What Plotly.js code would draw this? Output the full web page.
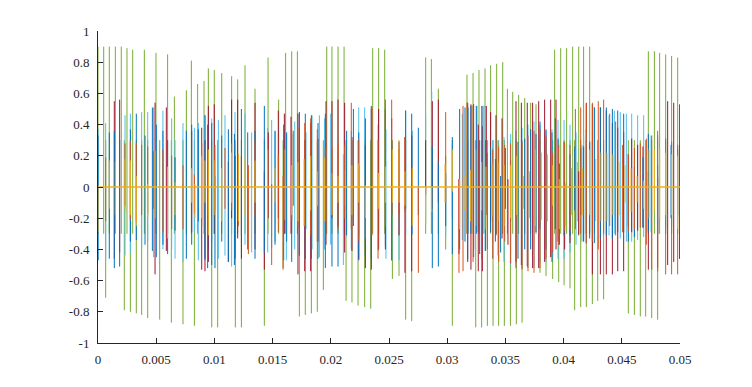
<!DOCTYPE html>
<html>
<head>
<meta charset="utf-8">
<script src="https://cdn.plot.ly/plotly-3.0.1.min.js"></script>
<style>html,body{margin:0;padding:0;background:#fff;}#chart{width:752px;height:387px;}</style>
</head>
<body>
<div id="chart"></div>
<script>
// ---- tick labels ----
const xTickVals = [0,0.005,0.01,0.015,0.02,0.025,0.03,0.035,0.04,0.045,0.05];
const xTickText = ["0","0.005","0.01","0.015","0.02","0.025","0.03","0.035","0.04","0.045","0.05"];
const yTickVals = [-1,-0.8,-0.6,-0.4,-0.2,0,0.2,0.4,0.6,0.8,1];
const yTickText = ["-1","-0.8","-0.6","-0.4","-0.2","0","0.2","0.4","0.6","0.8","1"];

// ---- green series: time, low, high of each vertical stroke ----
const greenT = [
0.00000,0.00049,0.00066,0.00097,0.00149,0.00200,0.00226,0.00249,0.00278,0.00298,
0.00329,0.00375,0.00398,0.00427,0.00498,0.00530,0.00598,0.00630,0.00656,0.00730,
0.00759,0.00802,0.00828,0.00856,0.00911,0.00948,0.00977,0.00999,0.01028,0.01063,
0.01148,0.01180,0.01200,0.01232,0.01263,0.01349,0.01429,0.01461,0.01552,0.01590,
0.01612,0.01664,0.01713,0.01730,0.01781,0.01833,0.01884,0.01936,0.01965,0.02010,
0.02062,0.02114,0.02131,0.02182,0.02234,0.02291,0.02343,0.02360,0.02411,0.02463,
0.02529,0.02586,0.02643,0.02695,0.02815,0.02864,0.02924,0.02987,0.03044,0.03170,
0.03222,0.03245,0.03273,0.03296,0.03325,0.03345,0.03373,0.03394,0.03425,0.03442,
0.03477,0.03491,0.03517,0.03543,0.03563,0.03594,0.03614,0.03643,0.03666,0.03717,
0.03763,0.03797,0.03849,0.03906,0.03923,0.03958,0.03975,0.04004,0.04026,0.04055,
0.04078,0.04095,0.04130,0.04147,0.04172,0.04195,0.04224,0.04247,0.04293,0.04344,
0.04556,0.04608,0.04659,0.04705,0.04728,0.04757,0.04780,0.04808,0.04825,0.04877,
0.04928,0.04980];
const greenHi = [
.90,.90,.30,.90,.90,.90,.30,.89,.30,.88,
.30,.30,.88,.30,.86,.30,.85,.30,.58,.30,
.62,.81,.30,.66,.68,.76,.30,.75,.30,.73,
.71,.30,.69,.30,.78,.63,.30,.83,.56,.30,
.86,.87,.87,.30,.30,.30,.30,.30,.90,.90,
.90,.90,.30,.30,.30,.30,.30,.89,.89,.88,
.30,.30,.30,.30,.83,.82,.63,.20,.30,.72,
.73,.30,.75,.30,.76,.30,.78,.30,.79,.30,
.80,.30,.63,.30,.61,.30,.59,.30,.57,.54,
.53,.30,.30,.30,.88,.30,.89,.30,.89,.30,
.90,.30,.90,.30,.90,.30,.90,.30,.30,.30,
.30,.30,.30,.30,.87,.30,.87,.30,.86,.85,
.84,.83];
const greenLo = [
-.30,-.30,-.71,-.30,-.30,-.30,-.79,-.30,-.80,-.30,
-.81,-.82,-.30,-.84,-.30,-.85,-.30,-.87,-.30,-.88,
-.30,-.30,-.89,-.30,-.30,-.30,-.90,-.30,-.90,-.30,
-.30,-.90,-.30,-.90,-.30,-.30,-.89,-.30,-.30,-.52,
-.30,-.30,-.30,-.83,-.82,-.81,-.80,-.66,-.30,-.30,
-.30,-.30,-.73,-.74,-.76,-.77,-.78,-.30,-.30,-.30,
-.59,-.57,-.85,-.86,-.30,-.30,-.30,-.40,-.89,-.30,
-.30,-.90,-.30,-.90,-.30,-.89,-.30,-.89,-.30,-.89,
-.30,-.89,-.30,-.89,-.30,-.88,-.30,-.87,-.30,-.30,
-.30,-.55,-.57,-.59,-.30,-.61,-.30,-.63,-.30,-.65,
-.30,-.79,-.30,-.77,-.30,-.77,-.30,-.75,-.73,-.72,
-.81,-.82,-.83,-.83,-.30,-.84,-.30,-.85,-.30,-.30,
-.30,-.30];

// ---- light blue series ----
const lbT = [
0.00000,0.00066,0.00232,0.00278,0.00375,0.00427,0.00478,0.00558,0.00633,0.00662,
0.00730,0.00828,0.00862,0.00919,0.00948,0.00977,0.01034,0.01091,0.01148,0.01177,
0.01263,0.01320,0.01458,0.01492,0.01521,0.01618,0.01690,0.01730,0.01787,0.01839,
0.01902,0.01947,0.01999,0.02108,0.02176,0.02240,0.02291,0.02406,0.02474,0.02523,
0.02586,0.02643,0.02700,0.02815,0.02867,0.02987,0.03044,0.03130,0.03182,0.03256,
0.03325,0.03391,0.03436,0.03488,0.03545,0.03591,0.03643,0.03694,0.03746,0.03797,
0.03849,0.03900,0.03952,0.04004,0.04055,0.04107,0.04158,0.04172,0.04224,0.04264,
0.04390,0.04436,0.04487,0.04539,0.04585,0.04636,0.04688,0.04751,0.04808,0.04877,
0.04928,0.04997];
const lbHi = [
.37,.41,.46,.47,.48,.48,.51,.49,.44,.30,
.41,.38,.41,.46,.43,.44,.43,.46,.35,.48,
.47,.35,.38,.43,.36,.34,.42,.48,.35,.46,
.46,.44,.47,.21,.36,.51,.51,.40,.37,.26,
.10,.49,.36,.47,.61,.05,.28,.47,.51,.52,
.52,.30,.30,.32,.34,.36,.38,.40,.42,.40,
.36,.37,.43,.43,.40,.35,.27,.33,.29,.51,
.46,.49,.48,.47,.47,.46,.46,.33,.33,.29,
.28,.27];
const lbLo = [
-.47,-.47,-.44,-.42,-.39,-.35,-.45,-.40,-.40,-.46,
-.48,-.29,-.47,-.47,-.40,-.35,-.46,-.44,-.51,-.40,
-.37,-.42,-.42,-.39,-.35,-.47,-.40,-.44,-.27,-.40,
-.45,-.40,-.37,-.50,-.40,-.31,-.33,-.41,-.46,-.47,
-.47,-.30,-.30,-.24,-.10,-.32,-.20,-.34,-.30,-.29,
-.41,-.46,-.44,-.48,-.50,-.51,-.52,-.52,-.52,-.48,
-.48,-.45,-.46,-.46,-.42,-.37,-.35,-.35,-.28,-.30,
-.31,-.30,-.33,-.35,-.35,-.34,-.32,-.29,-.30,-.27,
-.25,-.46];

// ---- dark red series ----
const drT = [
0.00140,0.00186,0.00490,0.00587,0.00805,0.00891,0.00919,0.00948,0.00999,0.01120,
0.01148,0.01177,0.01200,0.01232,0.01349,0.01429,0.01463,0.01549,0.01601,0.01658,
0.01718,0.01776,0.01827,0.01890,0.01959,0.02010,0.02062,0.02119,0.02182,0.02240,
0.02297,0.02348,0.02411,0.02469,0.02523,0.02586,0.02637,0.02695,0.02815,0.02872,
0.02924,0.03101,0.03176,0.03204,0.03227,0.03267,0.03302,0.03336,0.03373,0.03419,
0.03471,0.03522,0.03591,0.03637,0.03688,0.03734,0.03786,0.03837,0.03889,0.03935,
0.03963,0.04009,0.04055,0.04130,0.04195,0.04247,0.04316,0.04367,0.04419,0.04465,
0.04516,0.04556,0.04585,0.04636,0.04682,0.04728,0.04808,0.04894,0.04946,0.04997];
const drHi = [
.55,.56,.54,.51,.36,.38,.30,.52,.53,.16,
.56,.20,.56,.20,.54,.10,.35,.49,.47,.45,
.47,.30,.41,.31,.55,.55,.56,.54,.32,.14,
.27,.50,.50,.49,.44,.24,.32,.33,.30,.55,
.56,.05,.54,.53,.53,.40,.39,.52,.48,.46,
.44,.05,.55,.54,.54,.54,.55,.56,.56,.56,
.15,.03,.02,.10,.54,.53,.51,.49,.41,.38,
.35,.21,.31,.27,.26,.10,.06,.55,.54,.53];
const drLo = [
-.46,-.42,-.56,-.41,-.29,-.53,-.54,-.48,-.30,-.48,
-.20,-.46,-.33,-.46,-.40,-.53,-.20,-.20,-.30,-.30,
-.56,-.54,-.54,-.35,-.37,-.20,-.25,-.42,-.41,-.47,
-.52,-.53,-.40,-.40,-.18,-.31,-.55,-.54,-.05,-.14,
-.10,-.43,-.48,-.53,-.40,-.54,-.54,-.18,-.22,-.31,
-.33,-.37,-.48,-.50,-.51,-.52,-.52,-.48,-.45,-.40,
-.37,-.40,-.36,-.31,-.30,-.56,-.56,-.56,-.56,-.54,
-.54,-.25,-.29,-.28,-.26,-.53,-.52,-.50,-.48,-.46];

// ---- blue series ----
const blueT = [
0.00000,0.00097,0.00140,0.00186,0.00278,0.00329,0.00404,0.00467,0.00501,0.00558,
0.00598,0.00662,0.00759,0.00805,0.00862,0.00919,0.00942,0.00977,0.01005,0.01063,
0.01120,0.01172,0.01232,0.01286,0.01349,0.01429,0.01521,0.01595,0.01621,0.01664,
0.01730,0.01781,0.01833,0.01890,0.01953,0.02010,0.02062,0.02136,0.02194,0.02240,
0.02297,0.02348,0.02469,0.02523,0.02643,0.02695,0.02752,0.02872,0.02924,0.02987,
0.03044,0.03107,0.03153,0.03176,0.03204,0.03227,0.03250,0.03279,0.03307,0.03330,
0.03373,0.03414,0.03459,0.03500,0.03545,0.03608,0.03666,0.03717,0.03763,0.03797,
0.03849,0.03900,0.03929,0.03952,0.04004,0.04055,0.04095,0.04147,0.04172,0.04195,
0.04224,0.04264,0.04316,0.04367,0.04419,0.04465,0.04516,0.04556,0.04608,0.04682,
0.04728,0.04808,0.04923,0.04980];
const blueHi = [
.33,.35,.36,.30,.37,.47,.33,.51,.40,.36,
.30,.19,.36,.40,.37,.46,.40,.41,.07,.33,
.37,.34,.50,.35,.36,.52,.36,.40,.35,.34,
.48,.47,.46,.41,.47,.09,.01,.36,.50,.35,
.44,.52,.50,.27,.49,.47,.38,.26,.16,.09,
.32,.50,.51,.30,.52,.30,.52,.30,.52,.30,
.25,.18,.07,.25,.17,.29,.31,.37,.34,.42,
.37,.35,.44,.31,.29,.21,.26,.25,.26,.37,
.29,.51,.51,.51,.50,.49,.47,.00,.13,.19,
.34,.14,.27,.24];
const blueLo = [
-.47,-.46,-.52,-.51,-.35,-.34,-.37,-.41,-.45,-.37,
-.43,-.28,-.46,-.37,-.22,-.46,-.52,-.50,-.52,-.35,
-.48,-.50,-.31,-.40,-.46,-.42,-.37,-.47,-.35,-.48,
-.44,-.46,-.46,-.46,-.52,-.51,-.51,-.31,-.25,-.46,
-.44,-.46,-.38,-.47,-.14,-.31,-.18,-.52,-.51,-.25,
-.43,-.40,-.35,-.46,-.30,-.45,-.30,-.43,-.30,-.41,
-.29,-.35,-.42,-.14,-.22,-.46,-.40,-.40,-.29,-.27,
-.40,-.48,-.27,-.35,-.31,-.31,-.15,-.18,-.35,-.36,
-.33,-.36,-.33,-.31,-.33,-.29,-.29,-.35,-.32,-.26,
-.29,-.30,-.20,-.18];

// ---- orange series ----
const orangeT = [
0.00066,0.00232,0.00278,0.00329,0.00375,0.00427,0.00478,0.00558,0.00633,0.00730,
0.00828,0.00891,0.00948,0.01005,0.01091,0.01148,0.01206,0.01292,0.01349,0.01492,
0.01549,0.01590,0.01664,0.01678,0.01718,0.01776,0.01827,0.01884,0.01953,0.02010,
0.02062,0.02119,0.02176,0.02240,0.02297,0.02354,0.02406,0.02469,0.02523,0.02586,
0.02637,0.02700,0.02752,0.02987,0.03101,0.03136,0.03170,0.03222,0.03296,0.03345,
0.03391,0.03442,0.03494,0.03545,0.03591,0.03643,0.03694,0.03746,0.03797,0.03849,
0.03906,0.03958,0.04009,0.04055,0.04101,0.04147,0.04195,0.04247,0.04298,0.04344,
0.04396,0.04447,0.04505,0.04556,0.04608,0.04659,0.04711,0.04757,0.04808,0.04877,
0.04928,0.04980];
const orangeHi = [
.19,.28,.29,.28,.27,.26,.23,.24,.20,.14,
.08,.28,.24,.27,.25,.28,.21,.14,.29,.02,
.21,.07,.37,.36,.38,.41,.44,.37,.25,.25,
.28,.27,.54,.30,.01,.51,.30,.56,.56,.29,
.32,.12,.00,.48,.05,.52,.54,.52,.52,.22,
.24,.26,.27,.28,.28,.29,.33,.36,.37,.33,
.22,.27,.29,.27,.50,.51,.53,.54,.55,.56,
.47,.42,.27,.21,.25,.28,.31,.33,.36,.31,
.29,.27];
const orangeLo = [
-.22,-.12,-.21,-.22,-.18,-.17,-.14,-.29,-.27,-.27,
-.17,-.25,-.18,-.15,-.14,-.15,-.25,-.43,-.18,-.50,
-.29,-.53,-.22,-.12,-.27,-.25,-.31,-.35,-.22,-.18,
-.27,-.20,-.27,-.35,-.33,-.31,-.46,-.25,-.18,-.18,
-.16,-.18,-.55,-.10,-.55,-.54,-.30,-.48,-.46,-.40,
-.46,-.48,-.35,-.49,-.52,-.53,-.54,-.55,-.52,-.46,
-.42,-.37,-.28,-.28,-.27,-.30,-.36,-.35,-.40,-.30,
-.25,-.31,-.29,-.29,-.27,-.26,-.37,-.53,-.54,-.56,
-.56,-.56];

// ---- yellow series ----
const yellowT = [
0.00000,0.00097,0.00149,0.00232,0.00278,0.00329,0.00427,0.00490,0.00598,0.00662,
0.00805,0.00833,0.00891,0.00919,0.00948,0.01005,0.01063,0.01148,0.01206,0.01263,
0.01349,0.01458,0.01521,0.01607,0.01664,0.01718,0.01770,0.01827,0.01884,0.01947,
0.02010,0.02062,0.02125,0.02182,0.02240,0.02297,0.02411,0.02469,0.02529,0.02586,
0.02637,0.02700,0.02815,0.02867,0.02981,0.03044,0.03107,0.03153,0.03199,0.03245,
0.03296,0.03333,0.03385,0.03436,0.03488,0.03545,0.03597,0.03654,0.03706,0.03757,
0.03809,0.03861,0.03906,0.03963,0.04015,0.04067,0.04118,0.04164,0.04224,0.04276,
0.04321,0.04373,0.04424,0.04476,0.04528,0.04579,0.04631,0.04688,0.04734,0.04780,
0.04825,0.04877,0.04928,0.04980];
const yellowHi = [
.00,.17,.16,.18,.17,.07,.02,.23,.13,.03,
.12,.02,.20,.17,.24,.17,.12,.22,.21,.19,
.17,.24,.12,.24,.14,.16,.18,.20,.10,.19,
.09,.07,.11,.14,.15,.01,.09,.13,.24,.24,
.10,.12,.00,.00,.15,.24,.05,.07,.11,.24,
.16,.13,.15,.16,.14,.14,.20,.07,.10,.24,
.22,.21,.14,.05,.02,.12,.16,.12,.24,.18,
.22,.22,.21,.16,.14,.12,.07,.04,.24,.24,
.24,.22,.21,.20];
const yellowLo = [
-.29,-.14,-.18,-.15,-.18,-.25,-.20,-.20,-.33,-.18,
-.10,-.20,-.20,-.10,-.31,-.18,-.22,-.10,-.22,-.18,
-.10,-.27,-.10,-.21,-.18,-.22,-.25,-.15,-.12,-.22,
-.18,-.10,-.12,-.18,-.10,-.20,-.14,-.10,-.10,-.10,
-.12,-.25,-.24,-.16,-.10,-.03,-.27,-.15,-.22,-.25,
-.15,-.27,-.18,-.22,-.25,-.20,-.18,-.14,-.20,-.25,
-.21,-.22,-.12,-.27,-.25,-.18,-.22,-.18,-.18,-.22,
-.22,-.22,-.18,-.18,-.10,-.16,-.10,-.14,-.20,-.15,
-.20,-.18,-.18,-.27];

// ---- zero baseline (last series) ----
const baseT = [0, 0.05];
const baseY = [0, 0];

function strokes(t, lo, hi, color, w) {
  const x = [], y = [];
  for (let i = 0; i < t.length; i++) {
    x.push(t[i], t[i], null);
    y.push(lo[i], hi[i], null);
  }
  return {x: x, y: y, type: 'scatter', mode: 'lines', connectgaps: false,
          line: {color: color, width: w}, hoverinfo: 'skip', showlegend: false};
}

const W = 1.0;
const traces = [
  strokes(greenT, greenLo, greenHi, '#77AC30', W),
  strokes(lbT, lbLo, lbHi, '#4DBEEE', W),
  strokes(drT, drLo, drHi, '#A2142F', W),
  strokes(blueT, blueLo, blueHi, '#0072BD', W),
  strokes(orangeT, orangeLo, orangeHi, '#D95319', W),
  strokes(yellowT, yellowLo, yellowHi, '#EDB120', W),
  {x: baseT, y: baseY, type: 'scatter', mode: 'lines',
   line: {color: '#EDB120', width: 1.5}, hoverinfo: 'skip', showlegend: false}
];

const axisCommon = {
  showgrid: false, zeroline: false, showline: true,
  linecolor: '#262626', linewidth: 1,
  ticks: 'inside', ticklen: 5, tickwidth: 1, tickcolor: '#262626',
  tickfont: {family: '"Liberation Serif", "Times New Roman", serif', size: 13, color: '#262626'},
  mirror: false, fixedrange: true
};

const layout = {
  width: 752, height: 387,
  margin: {l: 98, r: 72, t: 31, b: 44, pad: 0},
  paper_bgcolor: '#ffffff', plot_bgcolor: '#ffffff',
  showlegend: false,
  xaxis: Object.assign({}, axisCommon, {
    range: [0, 0.05], tickmode: 'array', tickvals: xTickVals, ticktext: xTickText,
    ticklabelstandoff: 4
  }),
  yaxis: Object.assign({}, axisCommon, {
    range: [-1, 1], tickmode: 'array', tickvals: yTickVals, ticktext: yTickText,
    ticklabelstandoff: 5
  })
};

Plotly.newPlot('chart', traces, layout, {staticPlot: true, displayModeBar: false});
</script>
</body>
</html>
